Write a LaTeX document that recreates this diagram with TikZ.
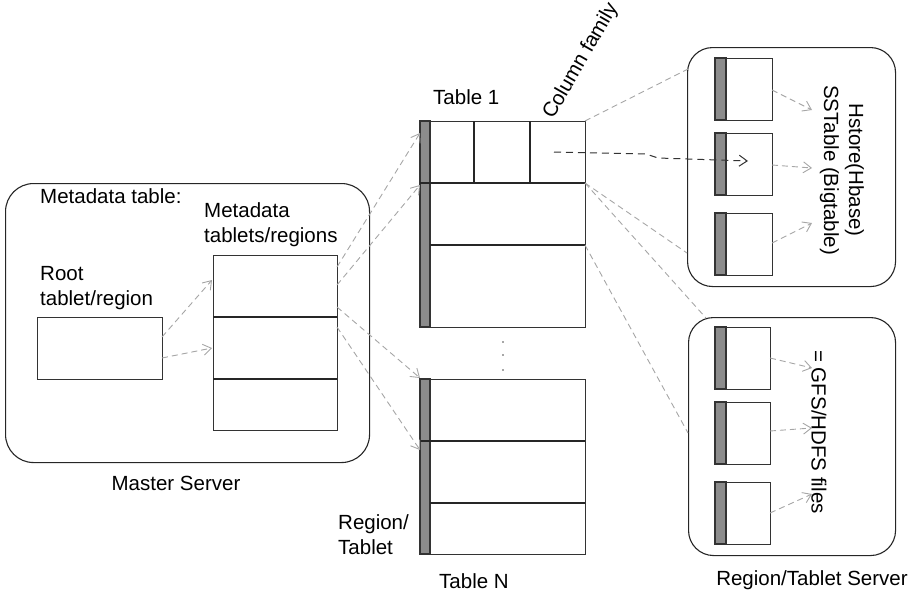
\documentclass[tikz,border=0pt]{standalone}
\usepackage{fontspec}
\setmainfont{Liberation Sans}
\usetikzlibrary{arrows.meta,calc}
\begin{document}
\begin{tikzpicture}[x=1pt,y=-1pt,
  every node/.style={font=\fontsize{20.5}{25}\selectfont},
  box/.style={draw=black!80, line width=1.1pt, inner sep=0pt, anchor=north west},
  rbox/.style={draw=black!85, line width=1.1pt, rounded corners=28pt, inner sep=0pt, anchor=north west},
  barfill/.style={fill=black!45, draw=black!80, line width=1.1pt},
  divider/.style={draw=black!85, line width=1.2pt},
  gline/.style={draw=black!35, dash pattern=on 6pt off 4pt, line width=0.9pt},
  garrow/.style={gline, -{Straight Barb[length=8pt,width=11pt]}},
  darrow/.style={draw=black!80, dash pattern=on 7pt off 5pt, line width=1pt, -{Straight Barb[length=8pt,width=11pt]}},
  lbl/.style={inner sep=0pt},
]
\useasboundingbox (0,0) rectangle (914,597);

% ---------- Master server ----------
\node[rbox, minimum width=364pt, minimum height=279pt] (master) at (5,183) {};
\node[lbl, anchor=base west] (mdtl) at (40,203) {Metadata table:};
\node[lbl, anchor=base west] (mtl1) at (204,217) {Metadata};
\node[lbl, anchor=base west] (mtl2) at (204,242) {tablets/regions};
\node[lbl, anchor=base west] (rtl1) at (40,280) {Root};
\node[lbl, anchor=base west] (rtl2) at (40,305) {tablet/region};
\node[box, minimum width=125pt, minimum height=62pt] (root) at (37,317) {};
\node[box, minimum width=124pt, minimum height=175pt] (meta) at (213,255) {};
\draw[divider] (213,317) -- (337,317);
\draw[divider] (213,379) -- (337,379);
\node[lbl, anchor=base] (msl) at (176,490) {Master Server};

% ---------- Table 1 ----------
\node[box, minimum width=165pt, minimum height=206pt] (t1) at (420,121) {};
\draw[barfill] (420,121) rectangle (430,327);
\draw[divider] (420,183) -- (585,183);
\draw[divider] (430,245) -- (585,245);
\draw[divider] (474,121) -- (474,183);
\draw[divider] (530,121) -- (530,183);
\node[lbl, anchor=base west] (t1l) at (433,104) {Table 1};
\node[lbl, rotate=60] (cfl) at (581,61) {Column family};

% dots
\fill[black!70] (503,342) circle (0.9pt) (503,355) circle (0.9pt) (503,370) circle (0.9pt);

% ---------- Table N ----------
\node[box, minimum width=165pt, minimum height=175pt] (tn) at (420,379) {};
\draw[barfill] (420,379) rectangle (430,554);
\draw[divider] (420,441) -- (585,441);
\draw[divider] (430,503) -- (585,503);
\node[lbl, anchor=base west] (tnl) at (439,588) {Table N};
\node[lbl, anchor=base west] (rtb1) at (338,529) {Region/};
\node[lbl, anchor=base west] (rtb2) at (338,554) {Tablet};

% ---------- Region server top ----------
\node[rbox, rounded corners=25pt, minimum width=208pt, minimum height=239pt] (rs1) at (687,47) {};
\foreach \y/\n in {58/a,133/b,213/c}{
  \node[box, minimum width=57pt, minimum height=62pt] (s1\n) at (715,\y) {};
  \draw[barfill] (715,\y) rectangle ++(11,62);
}
\node[lbl, rotate=-90, align=center] (hsl) at (842,170) {Hstore(Hbase)\\SSTable (Bigtable)};

% ---------- Region server bottom ----------
\node[rbox, rounded corners=25pt, minimum width=207pt, minimum height=238pt] (rs2) at (688,317) {};
\foreach \y/\n in {327/a,402/b,482/c}{
  \node[box, minimum width=55pt, minimum height=62pt] (s2\n) at (715,\y) {};
  \draw[barfill] (715,\y) rectangle ++(11,62);
}
\node[lbl, rotate=-90] (gfl) at (819,432) {= GFS/HDFS files};
\node[lbl, anchor=base] (rsl) at (812,585) {Region/Tablet Server};

% ---------- endpoints ----------
\coordinate (r1) at (162,337); \coordinate (r2) at (162,358);
\coordinate (m1) at (212,280); \coordinate (m2) at (212,348);
\coordinate (ma) at (337,267); \coordinate (mb) at (337,285);
\coordinate (mc) at (337,307); \coordinate (md) at (337,327);
\coordinate (ta) at (420,133); \coordinate (tb) at (420,185);
\coordinate (tc) at (420,378); \coordinate (td) at (420,450);
\coordinate (e1) at (585,121); \coordinate (e2) at (585,183); \coordinate (e3) at (585,245);
\coordinate (q1) at (688,69); \coordinate (q2) at (687,253);
\coordinate (q3) at (706,318); \coordinate (q4) at (688,433);
\coordinate (cf) at (554,152); \coordinate (k1) at (646,154); \coordinate (k2) at (658,158);
\coordinate (ct) at (748,161);
\coordinate (h1) at (812,110); \coordinate (h2) at (812,168); \coordinate (h3) at (812,223);
\coordinate (g1) at (812,368); \coordinate (g2) at (812,428); \coordinate (g3) at (812,494);
\coordinate (sa) at (772,90); \coordinate (sb) at (772,165); \coordinate (sc) at (772,243);
\coordinate (ua) at (770,358); \coordinate (ub) at (770,431); \coordinate (uc) at (770,513);

% ---------- connectors ----------
\draw[garrow] (r1) -- (m1);
\draw[garrow] (r2) -- (m2);
\draw[garrow] (ma) -- (ta);
\draw[garrow] (mb) -- (tb);
\draw[garrow] (mc) -- (tc);
\draw[garrow] (md) -- (td);
\draw[gline] (e1) -- (q1);
\draw[gline] (e2) -- (q2);
\draw[gline] (e2) -- (q3);
\draw[gline] (e3) -- (q4);
\draw[darrow] (cf) -- (k1) -- (k2) -- (ct);
\draw[garrow] (sa) -- (h1);
\draw[garrow] (sb) -- (h2);
\draw[garrow] (sc) -- (h3);
\draw[garrow] (ua) -- (g1);
\draw[garrow] (ub) -- (g2);
\draw[garrow] (uc) -- (g3);
\end{tikzpicture}
\end{document}
